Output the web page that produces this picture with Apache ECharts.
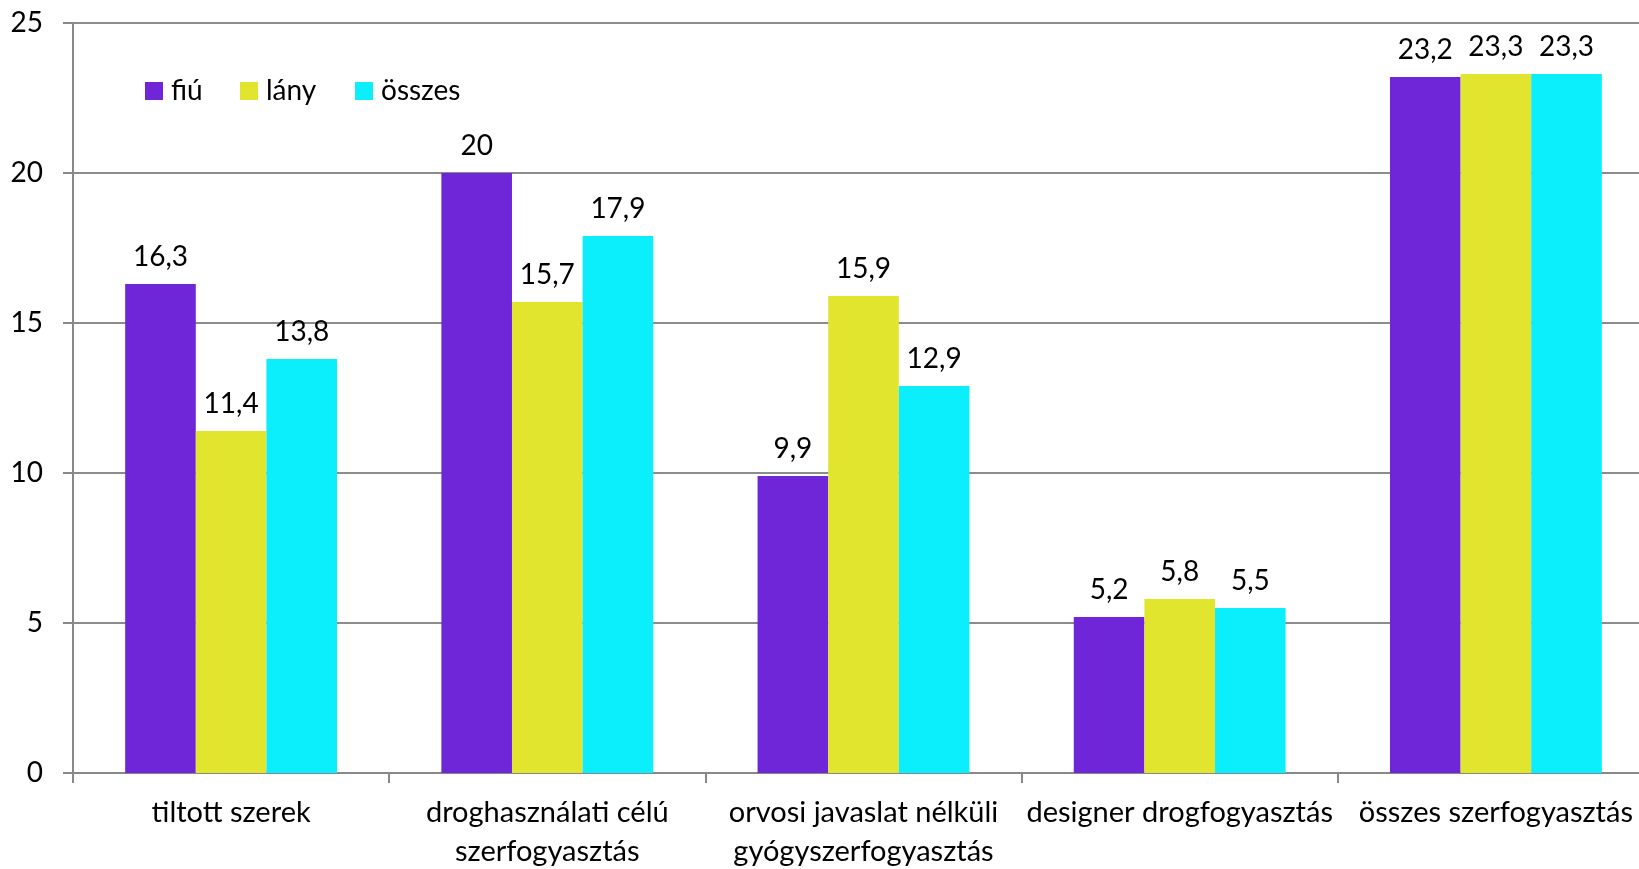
<!DOCTYPE html>
<html><head><meta charset="utf-8">
<script src="https://cdn.jsdelivr.net/npm/echarts@6/dist/echarts.min.js"></script>
<style>html,body{margin:0;padding:0;background:#fff}#c{width:1639px;height:869px}</style>
</head><body><div id="c"></div>
<script>
const categories = ['tiltott szerek', 'droghasználati célú\nszerfogyasztás', 'orvosi javaslat nélküli\ngyógyszerfogyasztás', 'designer drogfogyasztás', 'összes szerfogyasztás'];
const seriesNames = ['fiú', 'lány', 'összes'];
const fiu = [16.3, 20, 9.9, 5.2, 23.2];
const lany = [11.4, 15.7, 15.9, 5.8, 23.3];
const osszes = [13.8, 17.9, 12.9, 5.5, 23.3];
const yTicks = [0, 5, 10, 15, 20, 25];
const colors = ['#6F26D8', '#E2E52E', '#0BEFFC'];

const FONT = 'Lato, "Open Sans", sans-serif';
const FS = 28;
const chart = echarts.init(document.getElementById('c'));
const mk = (name, data, i) => ({
  name, type: 'bar', data, barGap: '0%', barCategoryGap: '33%',
  itemStyle: { color: colors[i] },
  label: { show: true, position: 'top', distance: 13, color: '#000', fontSize: FS, fontFamily: FONT,
    formatter: p => String(p.value).replace('.', ',') }
});
const legendLefts = [140, 235, 350];
chart.setOption({
  animation: false,
  textStyle: { fontFamily: FONT },
  grid: { left: 73, right: -15, top: 23, bottom: 96, outerBoundsMode: 'none', containLabel: false },
  legend: seriesNames.map((n, i) => ({
    left: legendLefts[i], top: 72, itemWidth: 18, itemHeight: 18,
    textStyle: { fontSize: FS, color: '#000', fontFamily: FONT, padding: [0, 0, 0, 3] },
    data: [{ name: n, icon: 'rect', itemStyle: { color: colors[i] } }]
  })),
  xAxis: { type: 'category', data: categories,
    axisLine: { lineStyle: { color: '#888', width: 2 } },
    axisTick: { show: true, length: 10, lineStyle: { color: '#888', width: 2 } },
    axisLabel: { color: '#000', fontSize: 29, fontFamily: FONT, margin: 20, lineHeight: 39, interval: 0 } },
  yAxis: { type: 'value', min: yTicks[0], max: yTicks[yTicks.length - 1], interval: 5,
    axisLine: { show: true, lineStyle: { color: '#888', width: 2 } },
    axisTick: { show: true, length: 10, lineStyle: { color: '#888', width: 2 } },
    splitLine: { lineStyle: { color: '#8c8c8c', width: 2 } },
    axisLabel: { color: '#000', fontSize: FS, fontFamily: FONT, margin: 30 } },
  series: [mk(seriesNames[0], fiu, 0), mk(seriesNames[1], lany, 1), mk(seriesNames[2], osszes, 2)]
});
</script></body></html>
